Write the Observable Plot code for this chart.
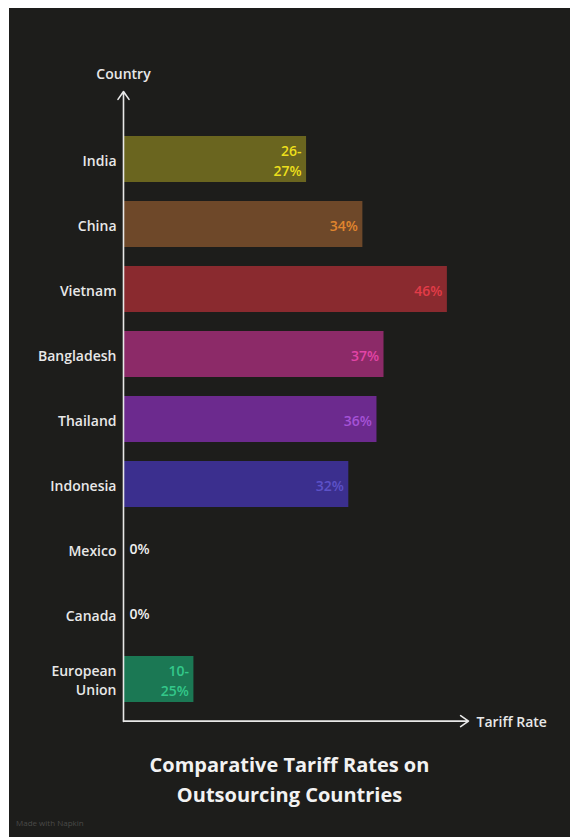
<!DOCTYPE html>
<html>
<head>
<meta charset="utf-8">
<script src="https://cdn.jsdelivr.net/npm/d3@7"></script>
<script src="https://cdn.jsdelivr.net/npm/@observablehq/plot@0.6"></script>
<style>
  html, body { margin: 0; padding: 0; background: #ffffff; }
  #wrap { position: absolute; left: 9px; top: 8px; width: 561px; height: 829px; background: #1d1d1b; overflow: hidden; }
  #chart { position: absolute; left: 0; top: 0; }
  #title { position: absolute; left: 0; top: 742px; width: 561px; text-align: center; color: #f2f2f2;
           font-family: "Open Sans", sans-serif; font-weight: 700; font-size: 20px; line-height: 30px; }
  #mark { position: absolute; left: 7px; top: 809px; color: #4a4a48; font-family: "Open Sans", sans-serif; font-size: 8px; }
</style>
</head>
<body>
<div id="wrap">
  <div id="chart"></div>
  <div id="title">Comparative Tariff Rates on<br>Outsourcing Countries</div>
  <div id="mark">Made with Napkin</div>
</div>
<script>
const countries = ["India", "China", "Vietnam", "Bangladesh", "Thailand", "Indonesia", "Mexico", "Canada", "European Union"];
const tariffs = [26, 34, 46, 37, 36, 32, 0, 0, 10];
const valueLabels = ["26-\n27%", "34%", "46%", "37%", "36%", "32%", "0%", "0%", "10-\n25%"];
const barColors = ["#6a651f", "#6e4829", "#8a2a2f", "#8c2a68", "#6c2a8e", "#3b2f8e", "#1d1d1b", "#1d1d1b", "#1b7854"];
const textColors = ["#ecdf1c", "#e0852e", "#e23c48", "#e244a6", "#a552d6", "#5d52c8", "#f0f0f0", "#f0f0f0", "#33c88a"];
const tickNames = ["India", "China", "Vietnam", "Bangladesh", "Thailand", "Indonesia", "Mexico", "Canada", "European\nUnion"];
const xLabel = "Tariff Rate";
const yLabel = "Country";
const xMax = 49;

const data = countries.map((c, i) => ({country: c, value: tariffs[i], label: valueLabels[i], bar: barColors[i], txt: textColors[i]}));
const first = countries[0];
const last = countries[countries.length - 1];

const chart = Plot.plot({
  width: 561,
  height: 740,
  marginLeft: 114,
  marginRight: 102,
  marginTop: 106,
  marginBottom: 24,
  style: {background: "transparent", color: "#e8e8e8", fontFamily: "'Open Sans', sans-serif", fontSize: "14px", fontWeight: 600},
  x: {domain: [0, xMax], axis: null},
  y: {domain: countries, padding: 0.3, axis: null},
  marks: [
    Plot.barX(data, {x: "value", y: "country", fill: "bar"}),
    Plot.text(data.filter(d => d.value > 0), {x: "value", y: "country", text: "label", fill: "txt", textAnchor: "end", dx: -5, fontSize: 14, lineHeight: 1.4}),
    Plot.text(data.filter(d => d.value === 0), {x: "value", y: "country", text: "label", fill: "txt", textAnchor: "start", dx: 6, fontSize: 14}),
    Plot.axisY({label: null, tickSize: 0, tickPadding: 7, tickFormat: (d) => tickNames[countries.indexOf(d)], fontSize: 14, lineHeight: 1.35}),
    Plot.arrow([0], {x1: 0, x2: 0, y1: () => last, y2: () => first, insetStart: -42, insetEnd: -68, stroke: "#e8e8e8", strokeWidth: 1.6, headLength: 9, headAngle: 70}),
    Plot.arrow([0], {x1: 0, x2: xMax, y1: () => last, y2: () => last, dy: 41.6, stroke: "#e8e8e8", strokeWidth: 1.6, headLength: 9, headAngle: 70}),
    Plot.text([yLabel], {x: 0, y: () => first, text: d => d, dy: -85, textAnchor: "middle", fill: "#e8e8e8", fontSize: 14}),
    Plot.text([xLabel], {x: xMax, y: () => last, text: d => d, dy: 43, dx: 8, textAnchor: "start", fill: "#e8e8e8", fontSize: 14})
  ]
});
document.getElementById("chart").appendChild(chart);
</script>
</body>
</html>
